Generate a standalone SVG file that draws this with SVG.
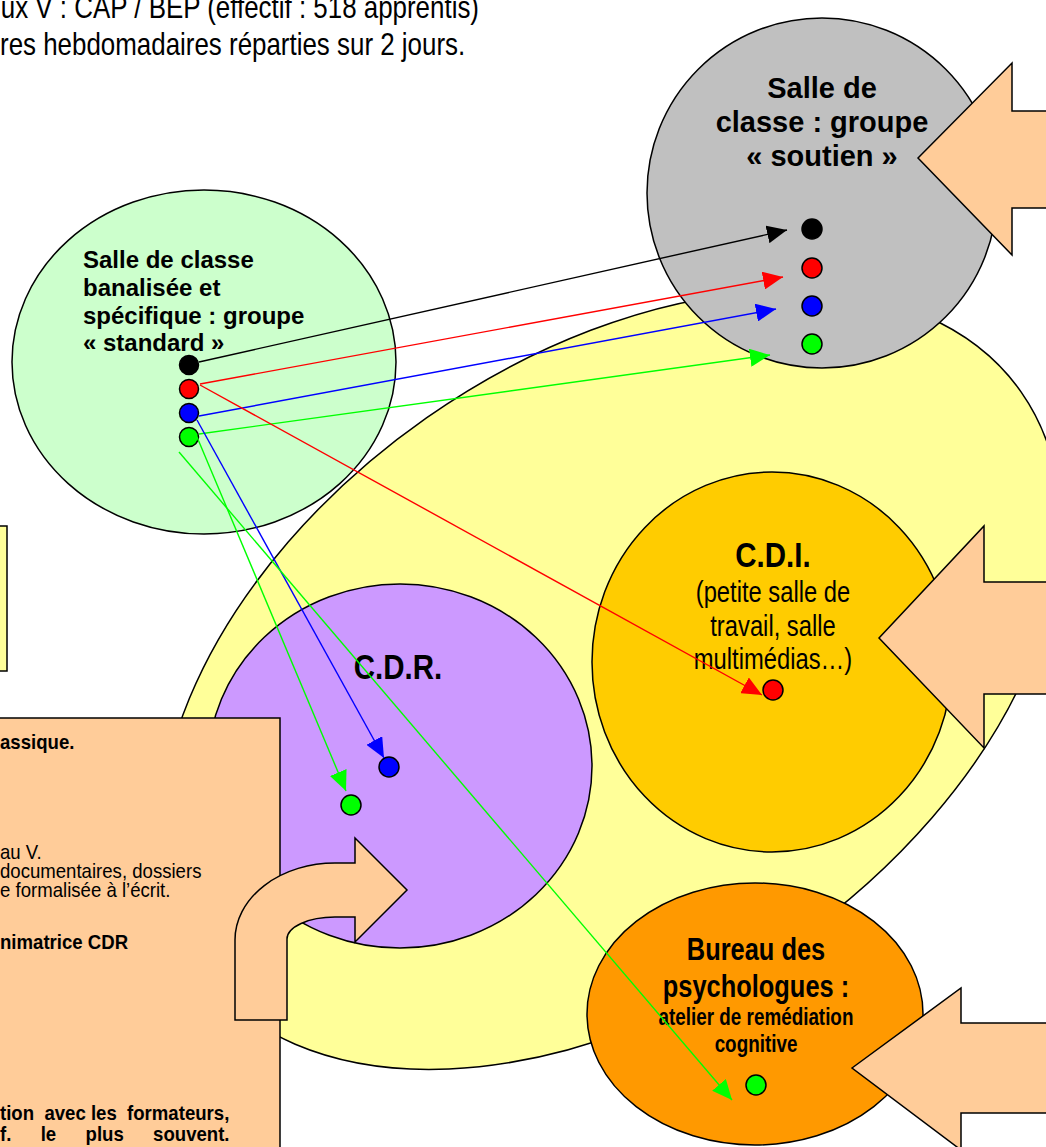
<svg xmlns="http://www.w3.org/2000/svg" width="1046" height="1147" viewBox="0 0 1046 1147">
<style>
.nb{font-family:'Liberation Sans',Arial,sans-serif;font-weight:bold;fill:#000}
.nr{font-family:'Liberation Sans',Arial,sans-serif;fill:#000}
.ab{font-family:'Liberation Sans',Arial,sans-serif;font-weight:bold;fill:#000}
.sh{stroke:#000;stroke-width:1.5}
.dot{stroke:#000;stroke-width:1.5}
.ln{fill:none;stroke-width:1.4}
</style>
<defs>
<marker id="hk" viewBox="0 0 20 18" refX="20" refY="9" markerWidth="20" markerHeight="18" markerUnits="userSpaceOnUse" orient="auto"><path d="M0,0 L20,9 L0,18 Z" fill="#000"/></marker>
<marker id="hr" viewBox="0 0 20 18" refX="20" refY="9" markerWidth="20" markerHeight="18" markerUnits="userSpaceOnUse" orient="auto"><path d="M0,0 L20,9 L0,18 Z" fill="#FF0000"/></marker>
<marker id="hb" viewBox="0 0 20 18" refX="20" refY="9" markerWidth="20" markerHeight="18" markerUnits="userSpaceOnUse" orient="auto"><path d="M0,0 L20,9 L0,18 Z" fill="#0000FF"/></marker>
<marker id="hg" viewBox="0 0 20 18" refX="20" refY="9" markerWidth="20" markerHeight="18" markerUnits="userSpaceOnUse" orient="auto"><path d="M0,0 L20,9 L0,18 Z" fill="#00FF00"/></marker>
</defs>
<rect width="1046" height="1147" fill="#fff"/>

<g id="header">
<text class="nr" transform="scale(0.81,1)" font-size="32"><tspan x="1" y="18">ux V : CAP / BEP (effectif : 518 apprentis)</tspan><tspan x="0" y="55">res hebdomadaires réparties sur 2 jours.</tspan></text>
</g>

<g id="zone">
<ellipse cx="610" cy="680" rx="502" ry="320" transform="rotate(-35 610 680)" fill="#FFFF99" class="sh"/>
</g>

<g id="soutien">
<circle cx="822" cy="193" r="175" fill="#C0C0C0" class="sh"/>
<text class="ab" font-size="29" text-anchor="middle"><tspan x="822" y="98">Salle de</tspan><tspan x="822" y="132">classe : groupe</tspan><tspan x="822" y="166">« soutien »</tspan></text>
</g>

<g id="standard">
<ellipse cx="204" cy="362" rx="192" ry="172" fill="#CCFFCC" class="sh"/>
<text class="ab" font-size="24"><tspan x="83" y="268">Salle de classe</tspan><tspan x="83" y="296">banalisée et</tspan><tspan x="83" y="324">spécifique : groupe</tspan><tspan x="83" y="351">« standard »</tspan></text>
</g>

<g id="cdr">
<ellipse cx="400" cy="766" rx="192" ry="182" fill="#CC99FF" class="sh"/>
<text class="nb" transform="translate(398,0) scale(0.82,1)" x="0" y="679" font-size="36" text-anchor="middle">C.D.R.</text>
</g>

<g id="cdi">
<ellipse cx="772" cy="662" rx="180" ry="190" fill="#FFCC00" class="sh"/>
<text class="nb" transform="translate(773,0) scale(0.82,1)" x="0" y="567" font-size="36" text-anchor="middle">C.D.I.</text>
<text class="nr" transform="translate(773,0) scale(0.82,1)" font-size="29" text-anchor="middle"><tspan x="0" y="602">(petite salle de</tspan><tspan x="0" y="636">travail, salle</tspan><tspan x="0" y="669">multimédias…)</tspan></text>
</g>

<g id="psy">
<ellipse cx="755" cy="1014" rx="168" ry="131" fill="#FF9900" class="sh"/>
<text class="nb" transform="translate(756,0) scale(0.82,1)" font-size="31" text-anchor="middle"><tspan x="0" y="960">Bureau des</tspan><tspan x="0" y="997">psychologues :</tspan></text>
<text class="nb" transform="translate(756,0) scale(0.82,1)" font-size="23" text-anchor="middle"><tspan x="0" y="1025">atelier de remédiation</tspan><tspan x="0" y="1052">cognitive</tspan></text>
</g>

<g id="leftbox">
<rect x="-5" y="526" width="12" height="145" fill="#FFFF99" class="sh"/>
</g>

<g id="infobox">
<rect x="-5" y="718" width="285" height="440" fill="#FFCC99" class="sh"/>
<g transform="scale(0.93,1)">
<text class="nb" x="0" y="749" font-size="20">assique.</text>
<text class="nr" font-size="20"><tspan x="0" y="859">au V.</tspan><tspan x="0" y="878">documentaires, dossiers</tspan><tspan x="0" y="897">e formalisée à l’écrit.</tspan></text>
<text class="nb" x="0" y="949" font-size="20">nimatrice CDR</text>
<text class="nb" font-size="20" xml:space="preserve"><tspan x="0" y="1120">tion  avec les  formateurs,</tspan></text>
<text class="nb" font-size="20" word-spacing="26"><tspan x="0" y="1141">f. le plus souvent.</tspan></text>
</g>
</g>

<g id="bent-arrow">
<path d="M235,1020 L235,940 A100,77 0 0 1 335,863 L355,863 L355,838 L407,890 L355,942 L355,917 L335,917 A48,22 0 0 0 287,939 L287,1020 Z" fill="#FFCC99" class="sh"/>
</g>

<g id="arrow-soutien">
<path d="M918,158 L1012,63 L1012,111 L1060,111 L1060,208 L1012,208 L1012,255 Z" fill="#FFCC99" class="sh"/>
</g>
<g id="arrow-cdi">
<path d="M879,638 L984,526 L984,582 L1060,582 L1060,694 L984,694 L984,748 Z" fill="#FFCC99" class="sh"/>
</g>
<g id="arrow-psy">
<path d="M852,1068 L961,988 L961,1023 L1060,1023 L1060,1113 L961,1113 L961,1150 Z" fill="#FFCC99" class="sh"/>
</g>

<g id="dots">
<circle cx="189" cy="365" r="9.5" fill="#000" class="dot"/>
<circle cx="189" cy="389" r="9.5" fill="#FF0000" class="dot"/>
<circle cx="189" cy="413" r="9.5" fill="#0000FF" class="dot"/>
<circle cx="189" cy="437" r="9.5" fill="#00FF00" class="dot"/>
<circle cx="812" cy="229" r="10" fill="#000" class="dot"/>
<circle cx="812" cy="268" r="10" fill="#FF0000" class="dot"/>
<circle cx="812" cy="306" r="10" fill="#0000FF" class="dot"/>
<circle cx="812" cy="344" r="10" fill="#00FF00" class="dot"/>
<circle cx="773" cy="690" r="10" fill="#FF0000" class="dot"/>
<circle cx="389" cy="767" r="10" fill="#0000FF" class="dot"/>
<circle cx="351" cy="805" r="10" fill="#00FF00" class="dot"/>
<circle cx="756" cy="1085" r="10" fill="#00FF00" class="dot"/>
</g>

<g id="connectors">
<path class="ln" stroke="#000" d="M199,362 L787,230" marker-end="url(#hk)"/>
<path class="ln" stroke="#FF0000" d="M200,384 L783,277" marker-end="url(#hr)"/>
<path class="ln" stroke="#0000FF" d="M199,416 L776,309" marker-end="url(#hb)"/>
<path class="ln" stroke="#00FF00" d="M199,434 L770,355" marker-end="url(#hg)"/>
<path class="ln" stroke="#FF0000" d="M200,385 L762,695" marker-end="url(#hr)"/>
<path class="ln" stroke="#0000FF" d="M197,420 L384,758" marker-end="url(#hb)"/>
<path class="ln" stroke="#00FF00" d="M197,437 L346,791" marker-end="url(#hg)"/>
<path class="ln" stroke="#00FF00" d="M179,452 L732,1100" marker-end="url(#hg)"/>
</g>
</svg>
